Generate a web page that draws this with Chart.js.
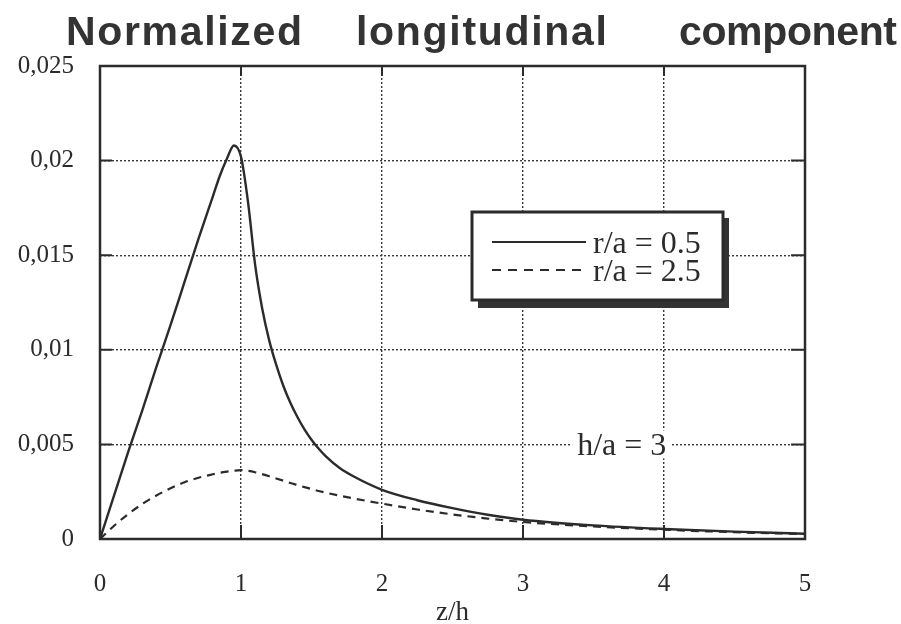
<!DOCTYPE html>
<html>
<head>
<meta charset="utf-8">
<script src="https://cdn.jsdelivr.net/npm/chart.js@4"></script>
<style>
  html, body { margin: 0; padding: 0; background: #fff; }
</style>
</head>
<body>
<canvas id="myChart" width="901" height="624"></canvas>
<script>
// z/h positions and the two curves
const zValues   = [0, 0.1, 0.2, 0.3, 0.4, 0.5, 0.6, 0.7, 0.8, 0.85, 0.9, 0.95, 1.0, 1.05, 1.1, 1.15, 1.2, 1.25, 1.3, 1.35, 1.4, 1.45, 1.5, 1.55, 1.6, 1.7, 1.8, 2.0, 2.25, 2.5, 2.75, 3.0, 3.5, 4.0, 4.5, 5.0];
const ratioHalf = [0, 0.0023, 0.0046, 0.0068, 0.0091, 0.0113, 0.0136, 0.0159, 0.0181, 0.0192, 0.0201, 0.0208, 0.0202, 0.0178, 0.0145, 0.0122, 0.0105, 0.0092, 0.0081, 0.0072, 0.00645, 0.0058, 0.00525, 0.00478, 0.00438, 0.00375, 0.0033, 0.0026, 0.00205, 0.00163, 0.00128, 0.00102, 0.00072, 0.00053, 0.00039, 0.00028];
const ratioTwoHalf = [0, 0.0007, 0.00132, 0.00185, 0.0023, 0.00268, 0.003, 0.00324, 0.00342, 0.0035, 0.00356, 0.00361, 0.00364, 0.0036, 0.00353, 0.00343, 0.00332, 0.0032, 0.00308, 0.00296, 0.00285, 0.00274, 0.00264, 0.00254, 0.00245, 0.00229, 0.00214, 0.00187, 0.00156, 0.0013, 0.00108, 0.0009, 0.00066, 0.00049, 0.00036, 0.00026];

const seriesLabels = ['r/a = 0.5', 'r/a = 2.5'];
const yTickLabels = ['0', '0,005', '0,01', '0,015', '0,02', '0,025'];
const titleWords = ['Normalized', 'longitudinal', 'component'];
const noteText = 'h/a = 3';

const serif = "'Liberation Serif', 'Times New Roman', serif";
const ink = '#2b2b2b';

function toPoints(ys) {
    return zValues.map(function (z, i) { return { x: z, y: ys[i] }; });
}

// spread the letters of one word between two x positions
function drawSpaced(ctx, word, x0, x1, y) {
    let total = 0;
    const widths = [];
    for (const ch of word) {
        const w = ctx.measureText(ch).width;
        widths.push(w);
        total += w;
    }
    const gap = (x1 - x0 - total) / (word.length - 1);
    let x = x0;
    for (let i = 0; i < word.length; i++) {
        ctx.fillText(word[i], x, y);
        x += widths[i] + gap;
    }
}

const backgroundPlugin = {
    id: 'background',
    beforeDraw(chart) {
        const ctx = chart.ctx;
        ctx.save();
        ctx.fillStyle = '#fff';
        ctx.fillRect(0, 0, chart.width, chart.height);
        ctx.restore();
    }
};

const titlePlugin = {
    id: 'spacedTitle',
    afterDraw(chart) {
        const ctx = chart.ctx;
        ctx.save();
        ctx.font = "bold 41px 'Liberation Sans', Arial, sans-serif";
        ctx.fillStyle = '#333';
        ctx.textBaseline = 'alphabetic';
        const spans = [[66, 302], [356, 607], [679, 897]];
        titleWords.forEach(function (w, i) {
            drawSpaced(ctx, w, spans[i][0], spans[i][1], 45);
        });
        ctx.restore();
    }
};

const framePlugin = {
    id: 'frame',
    afterDraw(chart) {
        const a = chart.chartArea;
        const ctx = chart.ctx;
        const xs = chart.scales.x, ys = chart.scales.y;
        ctx.save();
        ctx.strokeStyle = ink;
        ctx.lineWidth = 2.5;
        ctx.strokeRect(a.left, a.top, a.right - a.left, a.bottom - a.top);
        ctx.lineWidth = 2;
        ctx.beginPath();
        xs.ticks.forEach(function (t) {
            const px = xs.getPixelForValue(t.value);
            ctx.moveTo(px, a.bottom); ctx.lineTo(px, a.bottom - 14);
            ctx.moveTo(px, a.top); ctx.lineTo(px, a.top + 10);
        });
        ys.ticks.forEach(function (t) {
            const py = ys.getPixelForValue(t.value);
            ctx.moveTo(a.left, py); ctx.lineTo(a.left + 12, py);
            ctx.moveTo(a.right, py); ctx.lineTo(a.right - 14, py);
        });
        ctx.stroke();
        ctx.restore();
    }
};

const boxLegendPlugin = {
    id: 'boxLegend',
    afterDatasetsDraw(chart) {
        const ctx = chart.ctx;
        const bx = 472, by = 212, bw = 251, bh = 88;
        ctx.save();
        // shadow
        ctx.fillStyle = '#333';
        ctx.fillRect(bx + 6, by + 6, bw, bh + 2);
        ctx.fillStyle = '#fff';
        ctx.fillRect(bx, by, bw, bh);
        ctx.strokeStyle = ink;
        ctx.lineWidth = 3;
        ctx.strokeRect(bx, by, bw, bh);

        ctx.font = '32px ' + serif;
        ctx.fillStyle = ink;
        ctx.textBaseline = 'alphabetic';
        chart.data.datasets.forEach(function (ds, i) {
            const ly = 242 + i * 28;
            ctx.beginPath();
            ctx.lineWidth = 1.8;
            ctx.strokeStyle = ds.borderColor;
            ctx.setLineDash(i === 0 ? [] : [9, 7]);
            ctx.moveTo(492, ly);
            ctx.lineTo(586, ly);
            ctx.stroke();
            ctx.setLineDash([]);
            ctx.fillText(ds.label, 593, ly + 11);
        });
        ctx.restore();
    }
};

const notePlugin = {
    id: 'note',
    afterDatasetsDraw(chart) {
        const ctx = chart.ctx;
        const px = chart.scales.x.getPixelForValue(3.7);
        const py = chart.scales.y.getPixelForValue(0.005);
        ctx.save();
        ctx.font = '32px ' + serif;
        const w = ctx.measureText(noteText).width;
        ctx.fillStyle = '#fff';
        ctx.fillRect(px - w / 2 - 5, py - 14, w + 10, 28);
        ctx.fillStyle = ink;
        ctx.textAlign = 'center';
        ctx.textBaseline = 'alphabetic';
        ctx.fillText(noteText, px, py + 11);
        ctx.restore();
    }
};

const ctx = document.getElementById('myChart').getContext('2d');

const data = {
    datasets: [{
        label: seriesLabels[0],
        data: toPoints(ratioHalf),
        borderColor: ink,
        borderWidth: 2.4,
        pointRadius: 0,
        fill: false,
        cubicInterpolationMode: 'monotone'
    }, {
        label: seriesLabels[1],
        data: toPoints(ratioTwoHalf),
        borderColor: ink,
        borderWidth: 2.2,
        borderDash: [8, 6],
        pointRadius: 0,
        fill: false,
        cubicInterpolationMode: 'monotone'
    }]
};

const options = {
    responsive: false,
    animation: false,
    layout: { padding: { top: 66, right: 96, left: 0, bottom: 0 } },
    plugins: {
        legend: { display: false },
        title: { display: false },
        tooltip: { enabled: false }
    },
    scales: {
        x: {
            type: 'linear',
            min: 0,
            max: 5,
            afterFit: function (s) { s.height = 85; },
            ticks: {
                stepSize: 1,
                padding: 30,
                color: ink,
                font: { family: serif, size: 25 }
            },
            grid: { color: '#3a3a3a', lineWidth: 1.4, drawTicks: false },
            border: { display: false, dash: [2, 2] },
            title: {
                display: true,
                text: 'z/h',
                color: ink,
                padding: 0,
                font: { family: serif, size: 27, lineHeight: 0.85 }
            }
        },
        y: {
            min: 0,
            max: 0.025,
            afterFit: function (s) { s.width = 100; },
            ticks: {
                stepSize: 0.005,
                padding: 26,
                color: ink,
                font: { family: serif, size: 25 },
                callback: function (v, i) { return yTickLabels[i]; }
            },
            grid: { color: '#3a3a3a', lineWidth: 1.4, drawTicks: false },
            border: { display: false, dash: [2, 2] }
        }
    }
};

const myChart = new Chart(ctx, {
    type: 'line',
    data: data,
    options: options,
    plugins: [backgroundPlugin, titlePlugin, framePlugin, boxLegendPlugin, notePlugin]
});
</script>
</body>
</html>
